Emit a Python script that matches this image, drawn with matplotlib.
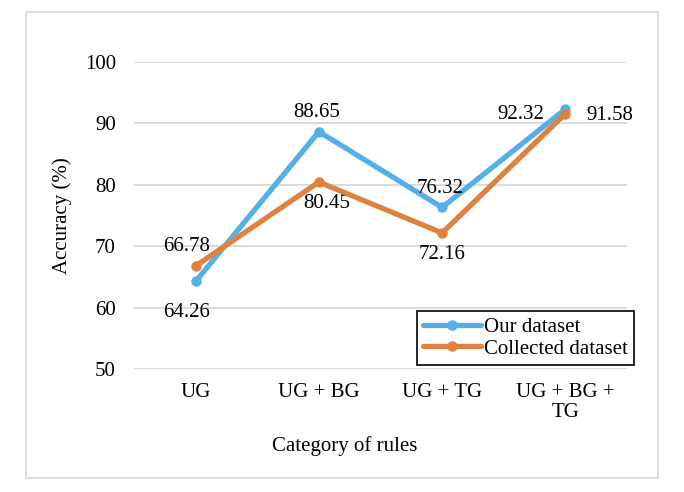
import matplotlib
matplotlib.use('Agg')
import matplotlib.pyplot as plt
from matplotlib.patches import Rectangle


plt.rcParams['font.family'] = ['Liberation Serif', 'DejaVu Serif']
plt.rcParams['font.size']   = 15

categories  = ['UG', 'UG + BG', 'UG + TG', 'UG + BG +\nTG']
ours        = [64.26, 88.65, 76.32, 92.32]
collected   = [66.78, 80.45, 72.16, 91.58]
y_ticks     = [50, 60, 70, 80, 90, 100]

BLUE    = '#56B0E8'
ORANGE  = '#E0823F'
GRID    = '#D9D9D9'

# label offsets in pixels (dx, dy)
ours_off        = [(-9, -31), (-2, 19), (-2, 19), (-45, -5)]
collected_off   = [(-9, 19), (8, -21), (0, -22), (44, -2)]

fig = plt.figure(figsize=(6.84, 4.92), dpi=100)
fig.patches.append(Rectangle((26/684, 1 - 478/492), 632/684, 466/492,
                             transform=fig.transFigure, fill=False,
                             edgecolor=GRID, linewidth=1.2))

ax = fig.add_axes([134/684, 1 - 369/492, 493/684, 307/492])
x = range(len(categories))

ax.plot(x, ours, color=BLUE, lw=3.8, marker='o', ms=6.5,
        solid_capstyle='round', label='Our dataset', zorder=3)
ax.plot(x, collected, color=ORANGE, lw=3.8, marker='o', ms=6.5,
        solid_capstyle='round', label='Collected dataset', zorder=4)

for xi, v, off in zip(x, ours, ours_off):
    ax.annotate(f'{v:.2f}', (xi, v), xytext=off, textcoords='offset pixels',
                ha='center', va='center')
for xi, v, off in zip(x, collected, collected_off):
    ax.annotate(f'{v:.2f}', (xi, v), xytext=off, textcoords='offset pixels',
                ha='center', va='center')

ax.set_xlim(-0.5, 3.5)
ax.set_ylim(50, 100)
ax.set_yticks(y_ticks)
ax.set_xticks(list(x))
ax.set_xticklabels(categories, linespacing=1.05)
ax.tick_params(axis='both', length=0)
ax.tick_params(axis='y', pad=13)
ax.tick_params(axis='x', pad=10)
ax.grid(axis='y', color=GRID, lw=1.3)
ax.set_axisbelow(True)
for s in ax.spines.values():
    s.set_visible(False)

ax.set_ylabel('Accuracy (%)')
ax.yaxis.set_label_coords((72 - 134) / 493, 0.5)
fig.text(345/684, 1 - 446/492, 'Category of rules', ha='center', va='center')

leg = ax.legend(loc='lower right', bbox_to_anchor=(1.014, 0.013),
                fancybox=False, framealpha=1, edgecolor='black',
                handlelength=2.75, handletextpad=0.15, borderpad=0.3,
                labelspacing=0.1, borderaxespad=0)
leg.get_frame().set_linewidth(1.2)

fig.savefig('out.png', dpi=100)
